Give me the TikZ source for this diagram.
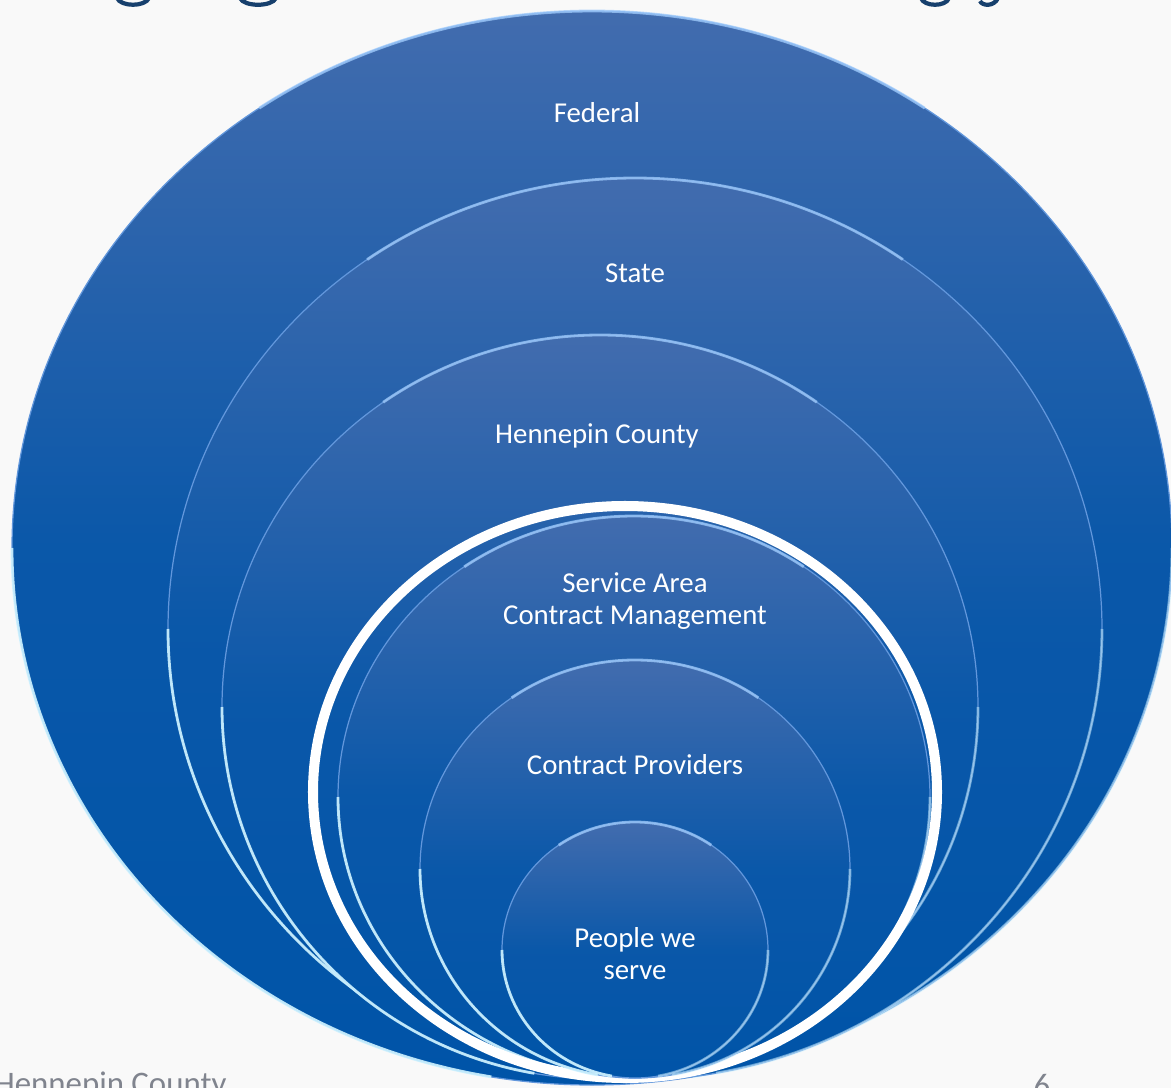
\documentclass[tikz,border=0pt]{standalone}
\usepackage{fontspec}
\setmainfont{Carlito}
\definecolor{pagebg}{RGB}{249,249,249}
\definecolor{discTop}{RGB}{66,108,174}
\definecolor{discBot}{RGB}{0,84,168}
\definecolor{rimBlue}{RGB}{120,180,250}
\definecolor{glowBlue}{RGB}{205,242,255}
\definecolor{titleBlue}{RGB}{23,64,109}
\definecolor{footGray}{RGB}{128,132,142}
\def\ellarc[#1](#2,#3)(#4:#5:#6:#7){\draw[#1] ({#2+#6*cos(#4)},{#3+#7*sin(#4)}) arc[start angle=#4, end angle=#5, x radius=#6, y radius=#7];}
\def\disc(#1,#2)(#3:#4){%
  \shade[disc] (#1,#2) ellipse [x radius=#3, y radius=#4];
  \ellarc[tophl](#1,#2)(235:305:#3:#4)
  \ellarc[glowhl](#1,#2)(100:180:#3:#4)
  \ellarc[glowhl, opacity=.5](#1,#2)(0:80:#3:#4)}
\tikzset{
  disc/.style={top color=discTop, bottom color=discBot, middle color=discBot!85!discTop, draw=rimBlue!60!discTop, line width=0.7pt},
  tophl/.style={draw=rimBlue!70!white, line width=1.6pt, opacity=.75},
  glowhl/.style={draw=glowBlue, line width=1.6pt, opacity=.9},
  disctext/.style={text=white, align=center, font=\fontsize{16.4}{18.2}\selectfont},
  foot/.style={text=footGray, font=\fontsize{18.7}{20}\selectfont, inner sep=0pt},
  titlestroke/.style={draw=titleBlue, line width=2.4pt}
}

\begin{document}
\begin{tikzpicture}[x=0.02cm, y=-0.02cm]
		%%%%% START %%%%%
		
		\fill[pagebg] (0, 0) rectangle (1171, 1088);
		\useasboundingbox (0, 0) rectangle (1171, 1088);
		\clip (0, 0) rectangle (1171, 1088);
		
		\draw[titlestroke] (117, -2) .. controls (121, 7) and (145, 7) .. (149, -2);
		\draw[titlestroke] (240, -2) .. controls (244, 7) and (272, 7) .. (276, -2);
		\draw[titlestroke] (921, -2) .. controls (924, 7) and (946, 7) .. (949, -2);
		\draw[titlestroke] (980, 1) .. controls (982, 6) and (994, 7) .. (998, -2);
		
		\disc(592, 548)(580:537)
		\disc(635, 629)(467:451)
		\disc(600, 707)(378:372)
		\disc(634, 797)(296:281)
		\draw[white, line width=5.7pt] (625, 792) ellipse [x radius=312, y radius=286];
		\disc(635, 869)(215:209)
		\disc(635, 950)(133:128)
		
		\node[disctext] (federal) at (597, 113) {Federal};
		\node[disctext] (state) at (635, 273) {State};
		\node[disctext] (county) at (597, 436) {Hennepin County};
		\node[disctext] (area) at (635, 601) {Service Area\\Contract Management};
		\node[disctext] (providers) at (635, 765) {Contract Providers};
		\node[disctext] (people) at (635, 954) {People we\\serve};
		
		\node[foot, anchor=base west] (footname) at (-6, 1094) {Hennepin County};
		\node[foot, anchor=base] (pagenum) at (1042, 1096) {6};
		
		%%%%% END %%%%%
	\end{tikzpicture}
\end{document}
